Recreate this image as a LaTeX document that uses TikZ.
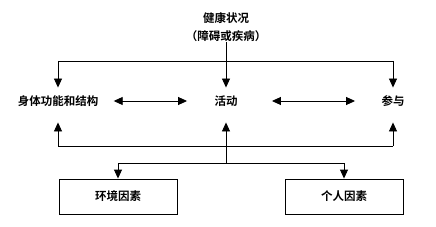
\documentclass[tikz,border=0pt]{standalone}
\usepackage{fontspec}
\setmainfont{Noto Sans CJK SC}[BoldFont={* Bold}]
\usetikzlibrary{arrows.meta,calc,positioning}

\begin{document}
\begin{tikzpicture}[x=1pt,y=-1pt,>={Triangle[length=9pt,width=8pt]},line width=.9pt,
  font=\fontsize{11.5}{13}\selectfont\bfseries,
  lbl/.style={inner sep=0pt,minimum height=12pt},
  factor/.style={draw,inner sep=0pt,minimum width=118pt,minimum height=35pt}]
\useasboundingbox (0,0) rectangle (436,227);
% health condition
\node[lbl] (hs) at (226,18) {健康状况};
\node[lbl] (hs2) at (226,36) {（障碍或疾病）};
% the three components
\node[lbl] (body) at (58,101) {身体功能和结构};
\node[lbl] (act) at (226,101) {活动};
\node[lbl] (part) at (393,101) {参与};
% context factors
\node[factor] (env) at (118,196.5) {环境因素};
\node[factor] (pers) at (344,196.5) {个人因素};
\coordinate (tj) at (226,61);
\coordinate (bj) at (226,146);
\coordinate (bj2) at (226,163);
% top tree
\draw[->,shorten >=7pt] (hs2.south) -- (act);
\draw (tj -| body) -- (tj -| part);
\foreach \n in {body,part}{
 \draw[->,shorten >=7pt] (tj -| \n) -- (\n.north -| \n);
}
\draw[<->,shorten <=15pt,shorten >=27pt] (body.east) -- (act.west);
\draw[<->,shorten <=34pt,shorten >=26pt] (act.east) -- (part.west);
% bottom tree
\draw (bj -| body) -- (bj -| part);
\foreach \n in {body,act,part}{
 \draw[->,shorten >=15pt] (bj -| \n) -- (\n.south -| \n);
}
\draw (bj) -- (bj2);
\draw (bj2 -| env) -- (bj2 -| pers);
\foreach \n in {env,pers}{
 \draw[->] (bj2 -| \n) -- (\n.north);
}
\end{tikzpicture}
\end{document}
